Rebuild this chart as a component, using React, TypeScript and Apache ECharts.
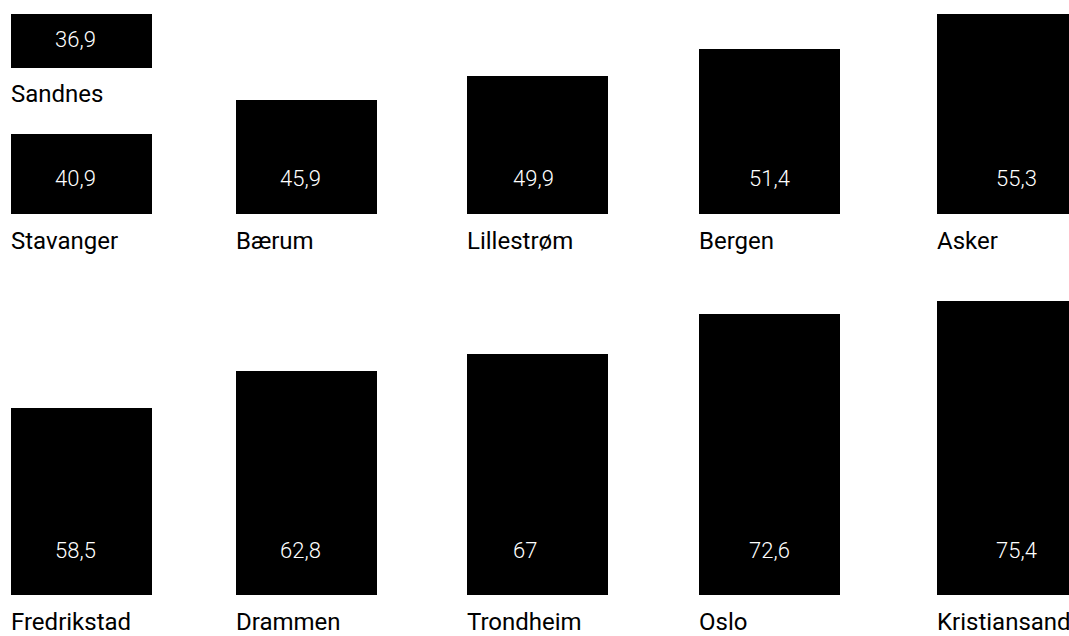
import React, { useEffect, useRef } from "react";
import * as echarts from "echarts";

// ---- data ----
const cities = [
  "Sandnes",
  "Stavanger",
  "Bærum",
  "Lillestrøm",
  "Bergen",
  "Asker",
  "Fredrikstad",
  "Drammen",
  "Trondheim",
  "Oslo",
  "Kristiansand",
];
const values = [36.9, 40.9, 45.9, 49.9, 51.4, 55.3, 58.5, 62.8, 67, 72.6, 75.4];
// bar size measure (as drawn in the reference)
const barSizes = [54, 80, 114, 138, 165, 200, 187, 224, 241, 281, 294];
const rowOf = [0, 1, 1, 1, 1, 1, 2, 2, 2, 2, 2];
const colOf = [0, 0, 1, 2, 3, 4, 0, 1, 2, 3, 4];

// ---- layout ----
const W = 1069;
const H = 636;
const colLeft = [11, 236, 467, 699, 937];
const rowBase = [68, 214, 595];
const barW = 141;
const labelDx = [44, 44, 46, 50, 59];
const labelDy = [28.5, 36, 44.5];
const namePad = [13.6, 15, 15.4];
const FONT = "Roboto, 'DejaVu Sans', sans-serif";

const fmt = (v: number) => String(v).replace(".", ",");

export default function App() {
  const ref = useRef<HTMLDivElement>(null);
  useEffect(() => {
    if (!ref.current) return;
    const chart = echarts.init(ref.current, undefined, { renderer: "svg" });
    const grid: any[] = [];
    const xAxis: any[] = [];
    const yAxis: any[] = [];
    const series: any[] = [];
    cities.forEach((city, i) => {
      const r = rowOf[i];
      const c = colOf[i];
      const base = rowBase[r];
      grid.push({ left: colLeft[c], top: 0, width: barW, height: base, containLabel: false });
      xAxis.push({
        gridIndex: i,
        type: "category",
        data: [city],
        axisLine: { show: false },
        axisTick: { show: false },
        axisLabel: { show: false },
        splitLine: { show: false },
        name: city,
        nameLocation: "start",
        nameGap: 0,
        nameTextStyle: {
          align: "left",
          verticalAlign: "top",
          fontFamily: FONT,
          fontSize: 24,
          lineHeight: 24,
          color: "#000",
          padding: [namePad[r], 0, 0, 0],
        },
      });
      yAxis.push({
        gridIndex: i,
        type: "value",
        min: 0,
        max: base,
        show: false,
        splitLine: { show: false },
      });
      series.push({
        type: "bar",
        name: city,
        xAxisIndex: i,
        yAxisIndex: i,
        data: [barSizes[i]],
        barWidth: barW,
        silent: true,
        itemStyle: { color: "#000" },
        label: {
          show: true,
          position: [labelDx[c], "100%"],
          offset: [0, -labelDy[r]],
          align: "left",
          verticalAlign: "middle",
          color: "#fff",
          fontFamily: FONT,
          fontSize: 22,
          fontWeight: 300,
          formatter: () => fmt(values[i]),
        },
      });
    });
    chart.setOption({
      animation: false,
      backgroundColor: "#fff",
      grid,
      xAxis,
      yAxis,
      series,
    });
    return () => chart.dispose();
  }, []);
  return (
    <div
      ref={ref}
      style={{ position: "fixed", left: 0, top: 0, width: W, height: H }}
    />
  );
}
